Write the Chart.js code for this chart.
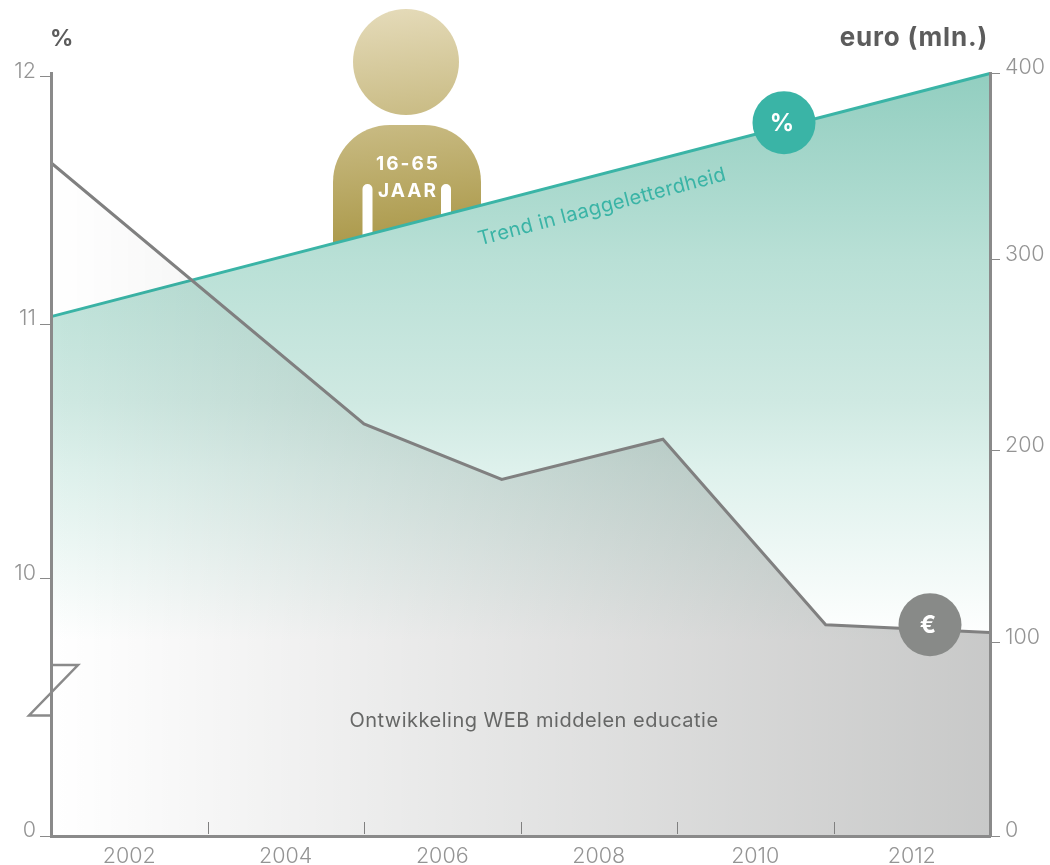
<!DOCTYPE html>
<html>
<head>
<meta charset="utf-8">
<title>Laaggeletterdheid en WEB middelen</title>
<style>
  html, body { margin: 0; background: #fff; }
  canvas { display: block; }
</style>
<script src="https://cdn.jsdelivr.net/npm/chart.js@4/dist/chart.umd.js"></script>
</head>
<body>
<canvas id="chart" width="1050" height="865"></canvas>
<script>
const xMin = 2001;
const xMax = 2013;
const xLabelYears = [2002, 2004, 2006, 2008, 2010, 2012];
const xTickYears = [2003, 2005, 2007, 2009, 2011];

const euroYears = [2001, 2005, 2006.76, 2008.82, 2010.9, 2013];
const euroValues = [352, 214, 185, 206, 109, 105];

const trendYears = [2001, 2013];
const trendValues = [11.03, 12.01];

const FONT = "Inter, 'Liberation Sans', sans-serif";
const TEAL = "#3ab4a6";
const AXIS = "#8a8a8a";
const TICK_TEXT = "#949494";
const TICK_FONT = { family: FONT, size: 21.5, weight: 300 };

// the printed axes are not evenly spaced (left one is broken below 10),
// so each axis gets its ticks and where they sit as a share of the height
class SteppedAxis extends Chart.LinearScale {
  static id = "steppedAxis";
  static defaults = Chart.LinearScale.defaults;

  buildTicks() {
    return this.options.stops.map((s) => ({ value: s[0] }));
  }

  getPixelForValue(value) {
    const stops = this.options.stops;
    let i = 0;
    while (i < stops.length - 2 && value > stops[i + 1][0]) i++;
    const a = stops[i];
    const b = stops[i + 1];
    const share = a[1] + ((value - a[0]) / (b[0] - a[0])) * (b[1] - a[1]);
    return this.bottom - share * (this.bottom - this.top);
  }

  _computeLabelItems(chartArea) {
    const items = super._computeLabelItems(chartArea);
    items.forEach((item) => {
      item.options.translation[1] -= 5;
    });
    return items;
  }
}
Chart.register(SteppedAxis);

const tealFill = (ctx) => {
  const area = ctx.chart.chartArea;
  if (!area) return "transparent";
  const g = ctx.chart.ctx.createLinearGradient(0, area.top, 0, 640);
  g.addColorStop(0, "#92cec0");
  g.addColorStop(0.33, "#b9e0d6");
  g.addColorStop(0.58, "#cfe9e2");
  g.addColorStop(0.7, "#def1ec");
  g.addColorStop(1, "#ffffff");
  return g;
};

// near-black with low alpha darkens like a multiply, keeps the teal showing
const greyFill = (ctx) => {
  const area = ctx.chart.chartArea;
  if (!area) return "transparent";
  const g = ctx.chart.ctx.createLinearGradient(area.left, 0, area.right, 0);
  g.addColorStop(0, "rgba(0,4,2,0)");
  g.addColorStop(1, "rgba(0,4,2,0.216)");
  return g;
};

const personPlugin = {
  id: "person",
  beforeDatasetsDraw(chart) {
    const c = chart.ctx;
    const g = c.createLinearGradient(395, 9, 420, 240);
    g.addColorStop(0, "#e4dab8");
    g.addColorStop(1, "#ab994a");
    c.save();
    c.fillStyle = g;
    c.beginPath();
    c.arc(406, 62, 53, 0, Math.PI * 2);
    c.fill();
    c.beginPath();
    c.roundRect(333, 125, 148, 160, [57, 57, 0, 0]);
    c.fill();
    c.fillStyle = "#fff";
    c.beginPath();
    c.roundRect(362.5, 184, 10, 90, [5, 5, 0, 0]);
    c.roundRect(441, 184, 10, 90, [5, 5, 0, 0]);
    c.fill();
    c.font = "700 19px " + FONT;
    c.textAlign = "center";
    c.textBaseline = "middle";
    c.letterSpacing = "2px";
    c.fillText("16-65", 408, 164);
    c.fillText("JAAR", 408, 191);
    c.restore();
  },
};

const extrasPlugin = {
  id: "extras",
  afterDatasetsDraw(chart) {
    const c = chart.ctx;
    const x = chart.scales.x;
    const bottom = chart.chartArea.bottom;
    c.save();

    // small year ticks pointing into the plot
    c.strokeStyle = "#808080";
    c.lineWidth = 1;
    xTickYears.forEach((year) => {
      const px = Math.round(x.getPixelForValue(year)) + 0.5;
      c.beginPath();
      c.moveTo(px, bottom - 14);
      c.lineTo(px, bottom - 2);
      c.stroke();
    });

    // axis break
    c.strokeStyle = AXIS;
    c.lineWidth = 2.5;
    c.beginPath();
    c.moveTo(51, 665);
    c.lineTo(78, 665);
    c.lineTo(29, 715.5);
    c.lineTo(51, 715.5);
    c.stroke();

    c.textBaseline = "middle";
    c.textAlign = "center";
    c.fillStyle = "#666766";
    c.font = "400 20px " + FONT;
    c.letterSpacing = "0.5px";
    c.fillText("Ontwikkeling WEB middelen educatie", 534, 721);

    c.save();
    c.translate(602, 207);
    c.rotate((-14.8 * Math.PI) / 180);
    c.fillStyle = TEAL;
    c.letterSpacing = "0.35px";
    c.fillText("Trend in laaggeletterdheid", 0, 0);
    c.restore();

    c.letterSpacing = "0px";
    c.fillStyle = TEAL;
    c.beginPath();
    c.arc(784, 122.7, 31.5, 0, Math.PI * 2);
    c.fill();
    c.fillStyle = "#888a88";
    c.beginPath();
    c.arc(930, 624.7, 31.5, 0, Math.PI * 2);
    c.fill();
    c.fillStyle = "#fff";
    c.font = "700 24px " + FONT;
    c.fillText("%", 782, 124);
    c.fillText("€", 928, 626);

    c.fillStyle = "#5c5c5c";
    c.font = "700 23px " + FONT;
    c.textAlign = "left";
    c.fillText("%", 50, 39);
    c.font = "700 26px " + FONT;
    c.letterSpacing = "0.8px";
    c.textAlign = "right";
    c.fillText("euro (mln.)", 988, 38);
    c.restore();
  },
};

new Chart(document.getElementById("chart"), {
  type: "line",
  data: {
    datasets: [
      {
        label: "Ontwikkeling WEB middelen educatie",
        data: euroYears.map((year, i) => ({ x: year, y: euroValues[i] })),
        yAxisID: "right",
        borderColor: "#808080",
        borderWidth: 3,
        borderJoinStyle: "miter",
        backgroundColor: greyFill,
        fill: "start",
        pointRadius: 0,
        clip: false,
      },
      {
        label: "Trend in laaggeletterdheid",
        data: trendYears.map((year, i) => ({ x: year, y: trendValues[i] })),
        yAxisID: "left",
        borderColor: TEAL,
        borderWidth: 3,
        backgroundColor: tealFill,
        fill: "start",
        pointRadius: 0,
        clip: false,
      },
    ],
  },
  options: {
    responsive: false,
    animation: false,
    events: [],
    layout: { autoPadding: false, padding: { top: 73 } },
    plugins: { legend: { display: false }, tooltip: { enabled: false } },
    scales: {
      x: {
        type: "linear",
        min: xMin,
        max: xMax,
        afterFit(scale) {
          scale.height = 29;
        },
        grid: { display: false, drawTicks: false },
        border: { color: AXIS, width: 3, z: 1 },
        ticks: {
          stepSize: 1,
          autoSkip: false,
          maxRotation: 0,
          padding: 8,
          color: TICK_TEXT,
          font: TICK_FONT,
          callback: (value) => (xLabelYears.includes(value) ? String(value) : ""),
        },
      },
      left: {
        type: "steppedAxis",
        position: "left",
        min: 0,
        max: 12,
        stops: [[0, 0], [10, 0.338], [11, 0.671], [12, 0.996]],
        afterFit(scale) {
          scale.width = 51;
        },
        grid: { drawOnChartArea: false, color: AXIS, lineWidth: 1, tickLength: 11 },
        border: { color: AXIS, width: 3, z: 1 },
        ticks: {
          padding: 4,
          color: TICK_TEXT,
          font: TICK_FONT,
          callback: (value) => String(value),
        },
      },
      right: {
        type: "steppedAxis",
        position: "right",
        min: 0,
        max: 400,
        stops: [[0, 0], [100, 0.2542], [200, 0.505], [300, 0.755], [400, 1]],
        afterFit(scale) {
          scale.width = 60;
        },
        grid: { drawOnChartArea: false, color: AXIS, lineWidth: 1, tickLength: 10 },
        border: { color: AXIS, width: 3, z: 1 },
        ticks: {
          padding: 5,
          color: TICK_TEXT,
          font: TICK_FONT,
          callback: (value) => String(value),
        },
      },
    },
  },
  plugins: [personPlugin, extrasPlugin],
});
</script>
</body>
</html>
